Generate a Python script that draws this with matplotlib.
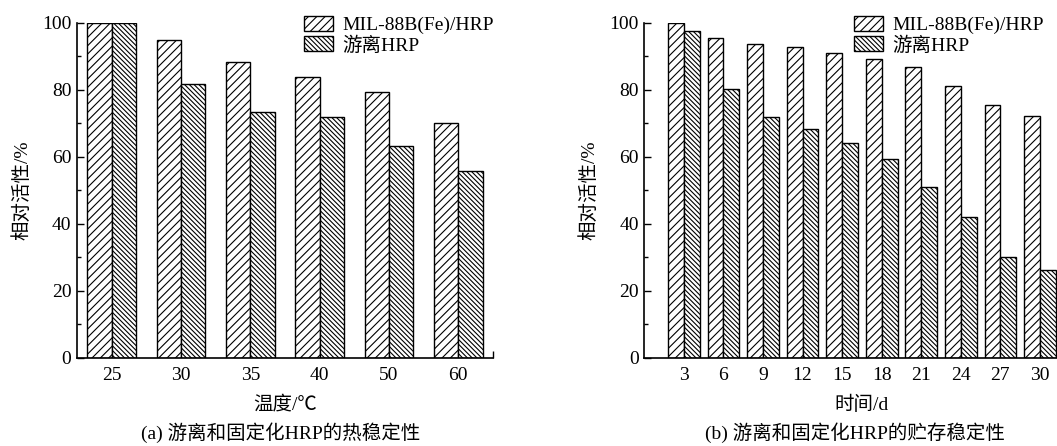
import matplotlib
matplotlib.use('Agg')
import matplotlib.pyplot as plt
import numpy as np

plt.rcParams['font.family'] = ['Liberation Serif', 'Noto Sans CJK SC']
plt.rcParams['hatch.linewidth'] = 0.8
plt.rcParams['axes.linewidth'] = 1.2

# (a) thermal stability
temp_labels = ['25', '30', '35', '40', '50', '60']
temp_mil = [100, 94.7, 88.2, 83.8, 79.3, 70.2]
temp_free = [100, 81.6, 73.2, 71.8, 63.1, 55.8]

# (b) storage stability
day_labels = ['3', '6', '9', '12', '15', '18', '21', '24', '27', '30']
day_mil = [100, 95.3, 93.7, 92.8, 91.0, 89.2, 86.8, 81.0, 75.4, 72.1]
day_free = [97.6, 80.3, 71.8, 68.4, 64.0, 59.3, 51.0, 42.0, 30.0, 26.2]

LEG_MIL = 'MIL-88B(Fe)/HRP'
LEG_FREE = '游离HRP'
FS = 14

W, H = 1057, 446
fig = plt.figure(figsize=(W / 100, H / 100), dpi=100)


def px_axes(x0, x1, ytop, ybot):
    return fig.add_axes([x0 / W, 1 - ybot / H, (x1 - x0) / W, (ybot - ytop) / H])


def draw_panel(ax, labels, mil, free, width, xlim, xlabel):
    x = np.arange(len(labels))
    ax.bar(x - width / 2, mil, width, facecolor='white', edgecolor='black',
           linewidth=1.0, hatch='////', label=LEG_MIL)
    ax.bar(x + width / 2, free, width, facecolor='white', edgecolor='black',
           linewidth=1.0, hatch='\\' * 7, label=LEG_FREE)
    ax.set_xlim(*xlim)
    ax.set_ylim(0, 100)
    ax.set_xticks(x)
    ax.set_xticklabels(labels)
    ax.set_yticks(np.arange(0, 101, 20))
    ax.set_yticks(np.arange(0, 101, 10), minor=True)
    ax.tick_params(axis='y', which='major', direction='in', length=5, width=1, labelsize=FS, pad=4)
    ax.tick_params(axis='y', which='minor', direction='in', length=3, width=1)
    ax.tick_params(axis='x', which='major', length=0, labelsize=FS, pad=7)
    ax.spines['top'].set_visible(False)
    ax.spines['right'].set_visible(False)
    ax.set_xlabel(xlabel, fontsize=FS, labelpad=8)
    ax.set_ylabel('相对活性/%', fontsize=FS, labelpad=8)


ax1 = px_axes(77, 493, 22.7, 357.7)
draw_panel(ax1, temp_labels, temp_mil, temp_free, 0.35, (-0.5, 5.5), '温度/℃')
ax1.set_xticks([5.5], minor=True)
ax1.tick_params(axis='x', which='minor', direction='in', length=5, width=1)

ax2 = px_axes(644.3, 1079.5, 22.7, 357.7)
draw_panel(ax2, day_labels, day_mil, day_free, 0.4, (-1, 10), '时间/d')

for ax, (lx, ly) in [(ax1, (304, 16)), (ax2, (854, 16))]:
    ax.legend(loc='upper left', bbox_to_anchor=(lx / W, 1 - ly / H),
              bbox_transform=fig.transFigure, frameon=False, fontsize=FS,
              handlelength=1.5, handleheight=0.8, handletextpad=0.45,
              borderpad=0, borderaxespad=0, labelspacing=0.1)

fig.text(281 / W, 1 - 433 / H, '(a) 游离和固定化HRP的热稳定性', ha='center', va='center', fontsize=FS)
fig.text(855 / W, 1 - 433 / H, '(b) 游离和固定化HRP的贮存稳定性', ha='center', va='center', fontsize=FS)

fig.savefig('out.png', dpi=100)
